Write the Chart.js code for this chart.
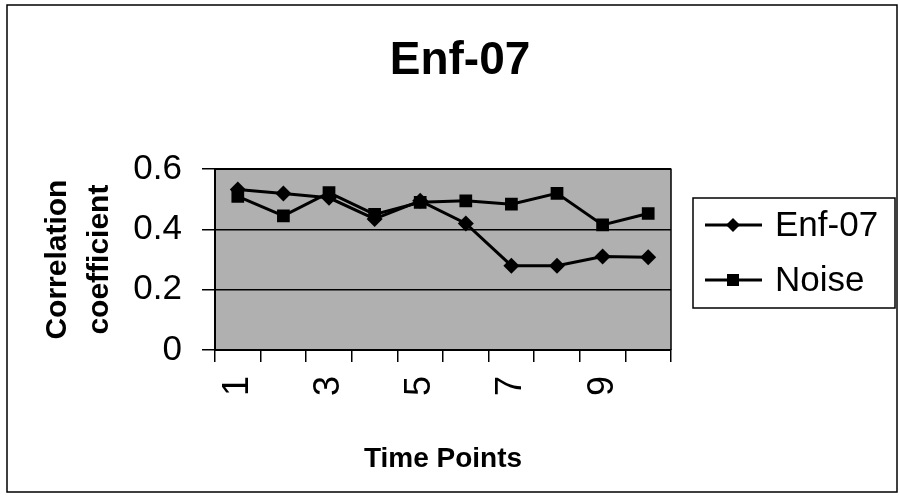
<!DOCTYPE html>
<html>
<head>
<meta charset="utf-8">
<script src="https://cdn.jsdelivr.net/npm/chart.js@4"></script>
<style>
  html, body { margin: 0; padding: 0; background: #fff; }
</style>
</head>
<body>
<canvas id="corrChart" width="900" height="497"></canvas>
<script>
const timePoints = ['1', '2', '3', '4', '5', '6', '7', '8', '9', '10'];
const shownTimeLabels = ['1', '3', '5', '7', '9'];
const enf07 = [0.533, 0.519, 0.505, 0.435, 0.495, 0.42, 0.28, 0.28, 0.31, 0.308];
const noise = [0.51, 0.445, 0.522, 0.45, 0.49, 0.495, 0.484, 0.52, 0.415, 0.453];

const FONT = "'Liberation Sans', Arial, sans-serif";

// page frame, plot background, plot border, legend
const framePlugin = {
    id: 'frame',
    beforeDraw(chart) {
        const ctx = chart.ctx;
        const a = chart.chartArea;
        ctx.save();
        ctx.fillStyle = '#fff';
        ctx.fillRect(0, 0, chart.width, chart.height);
        ctx.strokeStyle = '#000';
        ctx.lineWidth = 1.5;
        ctx.strokeRect(7, 5, 890, 487);
        ctx.fillStyle = '#b0b0b0';
        ctx.fillRect(a.left, a.top, a.right - a.left, a.bottom - a.top);
        ctx.restore();
    },
    beforeDatasetsDraw(chart) {
        const ctx = chart.ctx;
        const a = chart.chartArea;
        ctx.save();
        ctx.strokeStyle = '#000';
        ctx.lineWidth = 1.5;
        ctx.beginPath();
        ctx.moveTo(a.left, a.top);
        ctx.lineTo(a.right, a.top);
        ctx.lineTo(a.right, a.bottom);
        ctx.stroke();
        ctx.restore();
    },
    afterDraw(chart) {
        const ctx = chart.ctx;
        ctx.save();
        ctx.strokeStyle = '#000';
        ctx.lineWidth = 1.5;
        ctx.strokeRect(693, 198, 202, 110);
        ctx.font = '35px ' + FONT;
        ctx.textBaseline = 'middle';
        ctx.fillStyle = '#000';
        chart.data.datasets.forEach((ds, i) => {
            const y = 225 + i * 55;
            ctx.lineWidth = 3;
            ctx.beginPath();
            ctx.moveTo(705, y);
            ctx.lineTo(762, y);
            ctx.stroke();
            ctx.beginPath();
            if (ds.pointStyle === 'rectRot') {
                ctx.moveTo(733 - 7, y);
                ctx.lineTo(733, y - 7);
                ctx.lineTo(733 + 7, y);
                ctx.lineTo(733, y + 7);
                ctx.closePath();
            } else {
                ctx.rect(733 - 6, y - 6, 12, 12);
            }
            ctx.fill();
            ctx.fillText(ds.label, 775, y + 1);
        });
        ctx.restore();
    }
};

new Chart(document.getElementById('corrChart'), {
    type: 'line',
    data: {
        labels: timePoints,
        datasets: [
            {
                label: 'Enf-07',
                data: enf07,
                borderColor: '#000',
                backgroundColor: '#000',
                borderWidth: 3,
                pointStyle: 'rectRot',
                pointRadius: 8,
                pointBorderWidth: 0,
                tension: 0
            },
            {
                label: 'Noise',
                data: noise,
                borderColor: '#000',
                backgroundColor: '#000',
                borderWidth: 3,
                pointStyle: 'rect',
                pointRadius: 9,
                pointBorderWidth: 0,
                tension: 0
            }
        ]
    },
    options: {
        responsive: false,
        animation: false,
        devicePixelRatio: 1,
        layout: {
            padding: { left: 20, top: 0, right: 0, bottom: 0 }
        },
        plugins: {
            legend: { display: false },
            tooltip: { enabled: false },
            title: {
                display: true,
                text: 'Enf-07',
                color: '#000',
                font: { family: FONT, size: 46, weight: 'bold' },
                padding: { top: 34, bottom: 80 }
            }
        },
        scales: {
            x: {
                offset: true,
                grid: {
                    display: true,
                    drawOnChartArea: false,
                    drawTicks: true,
                    tickLength: 12,
                    color: '#000',
                    lineWidth: 1.5,
                    offset: true
                },
                border: { display: true, color: '#000', width: 2 },
                ticks: {
                    autoSkip: false,
                    minRotation: 90,
                    maxRotation: 90,
                    padding: 14,
                    color: '#000',
                    font: { family: FONT, size: 36 },
                    callback: (v, i) => shownTimeLabels.includes(timePoints[i]) ? timePoints[i] : ''
                },
                title: {
                    display: true,
                    text: 'Time Points',
                    color: '#000',
                    font: { family: FONT, size: 28, weight: 'bold' },
                    padding: { top: 0, bottom: 21 }
                },
                afterFit(scale) { scale.height = 147; }
            },
            y: {
                min: 0,
                max: 0.6,
                ticks: {
                    stepSize: 0.2,
                    color: '#000',
                    padding: 20,
                    font: { family: FONT, size: 35 },
                    callback: v => (Math.round(v * 10) / 10).toString()
                },
                grid: {
                    color: '#000',
                    lineWidth: 1.5,
                    drawTicks: true,
                    tickLength: 13
                },
                border: { display: true, color: '#000', width: 2 },
                title: {
                    display: true,
                    text: ['Correlation', 'coefficient'],
                    color: '#000',
                    font: { family: FONT, size: 30, weight: 'bold', lineHeight: 1.4 },
                    padding: { top: 17, bottom: 0 }
                },
                afterFit(scale) { scale.width = 195; }
            },
            // empty room on the right for the legend
            legendRoom: {
                type: 'linear',
                position: 'right',
                grid: { display: false },
                border: { display: false },
                ticks: { display: false },
                afterFit(scale) { scale.width = 229; }
            }
        }
    },
    plugins: [framePlugin]
});
</script>
</body>
</html>
